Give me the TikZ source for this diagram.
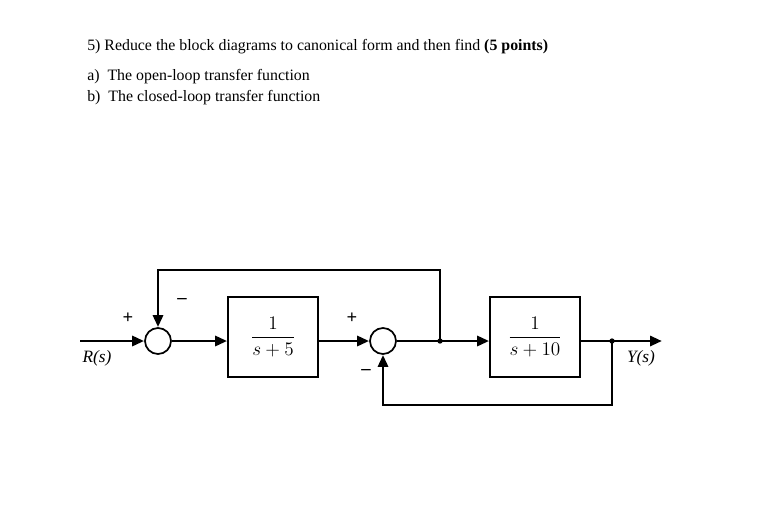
\documentclass[tikz,border=0pt]{standalone}
\usepackage{fontspec}
\setmainfont{Liberation Serif}
\usetikzlibrary{arrows.meta}
\begin{document}
\begin{tikzpicture}[x=0.75pt,y=-0.75pt,
  sig/.style={line width=2.2pt,-{Triangle[length=9pt,width=7.5pt]}},
  wire/.style={line width=2.2pt},
  blk/.style={draw,line width=1.3pt,minimum width=67.5pt,minimum height=60pt,inner sep=0pt,font=\fontsize{14}{16}\selectfont},
  sumc/.style={draw,circle,line width=1.3pt,minimum size=19.5pt,inner sep=0pt},
  txt/.style={anchor=west,inner sep=0pt,font=\fontsize{11.9}{14}\selectfont},
  lab/.style={inner sep=0pt,font=\fontsize{13}{15}\selectfont\itshape},
  sgn/.style={inner sep=0pt,font=\fontsize{14}{16}\selectfont\bfseries}]
\useasboundingbox (0,0) rectangle (762,504);
\node[txt] (t0) at (87,47) {5) Reduce the block diagrams to canonical form and then find \textbf{(5 points)}};
\node[txt] (ta) at (87,77) {a)\enspace The open-loop transfer function};
\node[txt] (tb) at (87,98) {b)\enspace The closed-loop transfer function};
\coordinate (in) at (80,341);
\node[sumc] (s1) at (158,341) {};
\node[blk] (b1) at (273,337) {$\displaystyle\frac{1}{s+5}$};
\node[sumc] (s2) at (383,341) {};
\coordinate (p1) at (440,341);
\node[blk] (b2) at (535,337) {$\displaystyle\frac{1}{s+10}$};
\coordinate (p2) at (612,341);
\coordinate (out) at (662,341);
\coordinate (tl) at (158,270);
\coordinate (tr) at (440,270);
\coordinate (bl) at (383,405);
\coordinate (br) at (612,405);
\draw[sig] (in) -- (s1);
\draw[sig] (s1) -- (b1.west |- s1);
\draw[sig] (b1.east |- s2) -- (s2);
\draw[wire] (s2) -- (p1);
\draw[sig] (p1) -- (b2.west |- p1);
\draw[wire] (b2.east |- p2) -- (p2);
\draw[sig] (p2) -- (out);
\draw[sig] (p1) -- (tr) -- (tl) -- (s1);
\draw[sig] (p2) -- (br) -- (bl) -- (s2);
\fill (p1) circle (2pt);
\fill (p2) circle (2pt);
\node[lab] (r) at (97,358) {R(s)};
\node[lab] (y) at (641,358) {Y(s)};
\node[sgn] (m1) at (128,318) {+};
\node[sgn] (m2) at (182,301) {--};
\node[sgn] (m3) at (352,318) {+};
\node[sgn] (m4) at (366,372) {--};
\end{tikzpicture}
\end{document}
